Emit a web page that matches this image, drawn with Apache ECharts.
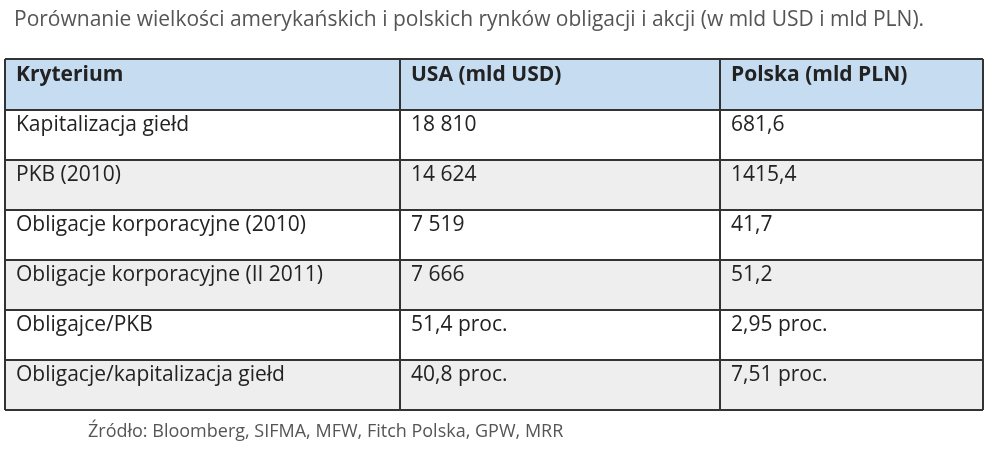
<!DOCTYPE html><html><head><meta charset="utf-8"><script src="https://cdn.jsdelivr.net/npm/echarts@6/dist/echarts.min.js"></script>
<style>html,body{margin:0;padding:0;background:#fff}#c{width:988px;height:449px}</style></head><body><div id="c"></div><script>
const title = 'Porównanie wielkości amerykańskich i polskich rynków obligacji i akcji (w mld USD i mld PLN).';
const headers = ['Kryterium', 'USA (mld USD)', 'Polska (mld PLN)'];
const criteria = ['Kapitalizacja giełd', 'PKB (2010)', 'Obligacje korporacyjne (2010)', 'Obligacje korporacyjne (II 2011)', 'Obligajce/PKB', 'Obligacje/kapitalizacja giełd'];
const usa = ['18 810', '14 624', '7 519', '7 666', '51,4 proc.', '40,8 proc.'];
const polska = ['681,6', '1415,4', '41,7', '51,2', '2,95 proc.', '7,51 proc.'];
const source = 'Źródło: Bloomberg, SIFMA, MFW, Fitch Polska, GPW, MRR';

const chart = echarts.init(document.getElementById('c'));
const colX = [5, 400, 720, 983];
const top0 = 59, hdrH = 51, rowH = 50;
const font = '"Open Sans", "Noto Sans", sans-serif';
const g = [];
g.push({type:'text', left:14, top:10, style:{text:title, font:'21px '+font, fill:'#555'}});
g.push({type:'rect', shape:{x:colX[0], y:top0, width:colX[3]-colX[0], height:hdrH}, style:{fill:'#c6dcf1'}});
const rows = criteria.map((c,i)=>[c, usa[i], polska[i]]);
rows.forEach((r,i)=>{
  const y = top0 + hdrH + i*rowH;
  if (i%2===1) g.push({type:'rect', shape:{x:colX[0], y:y, width:colX[3]-colX[0], height:rowH}, style:{fill:'#eeeeee'}});
});
const cellText = (txt, col, y, bold) => g.push({type:'text', x:colX[col]+11, y:y+5, style:{text:txt, font:(bold?'bold ':'')+'21px '+font, fill:'#222'}});
headers.forEach((h,j)=>cellText(h, j, top0+1, true));
rows.forEach((r,i)=>r.forEach((t,j)=>cellText(t, j, top0+hdrH+i*rowH, false)));
const bottom = top0 + hdrH + rows.length*rowH;
const line = (x1,y1,x2,y2)=>g.push({type:'line', shape:{x1,y1,x2,y2}, style:{stroke:'#333', lineWidth:2}});
line(colX[0], top0, colX[3], top0);
line(colX[0], top0+hdrH, colX[3], top0+hdrH);
rows.forEach((r,i)=>line(colX[0], top0+hdrH+(i+1)*rowH, colX[3], top0+hdrH+(i+1)*rowH));
colX.forEach(x=>line(x, top0, x, bottom));
g.push({type:'text', x:88, y:423, style:{text:source, font:'18px '+font, fill:'#555'}});
chart.setOption({animation:false, graphic:g});
</script></body></html>
